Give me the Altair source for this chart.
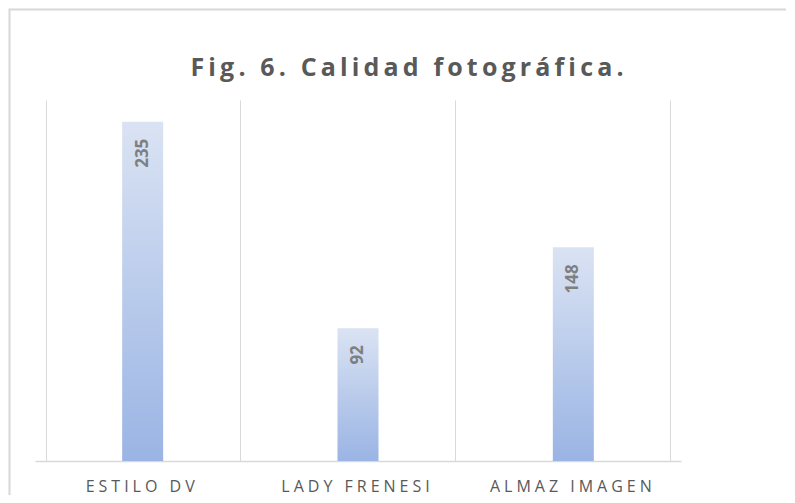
import altair as alt
import pandas as pd

categories = ["ESTILO DV", "LADY FRENESI", "ALMAZ IMAGEN"]
values = [235, 92, 148]
title_text = "Fig. 6. Calidad fotográfica."

df = pd.DataFrame({"cat": categories, "val": values})

W, H = 646, 361
SP = "\u2005"
TSP = "\u2009"

x_enc = alt.X("cat:N", sort=categories, title=None,
              axis=alt.Axis(labelAngle=0, ticks=False, grid=True, tickBand="extent",
                            gridColor="#d9d9d9", gridWidth=1,
                            domainColor="#d9d9d9", domainWidth=1.5,
                            labelColor="#595959", labelFont="Open Sans", labelFontSize=16,
                            labelPadding=17, labelOffset=-3,
                            labelExpr=f"join(split(datum.label, ''), '{SP}')"))
y_enc = alt.Y("val:Q", scale=alt.Scale(domain=[0, 250]), axis=None)

frame_top = alt.Chart(df).mark_rule(stroke="#d9d9d9", strokeWidth=1.5).encode(
    x=alt.value(-25.5), x2=alt.value(751), y=alt.value(-90.5)
)
frame_left = alt.Chart(df).mark_rule(stroke="#d9d9d9", strokeWidth=1.5).encode(
    x=alt.value(-25.5), y=alt.value(-91.25), y2=alt.value(395)
)

bars = alt.Chart(df).mark_bar(
    size=41,
    color=alt.Gradient(
        gradient="linear",
        stops=[alt.GradientStop(color="#dae3f3", offset=0),
               alt.GradientStop(color="#9ab4e4", offset=1)],
        x1=0, x2=0, y1=0, y2=1,
    ),
).encode(x=x_enc, y=y_enc)

labels = alt.Chart(df).mark_text(
    angle=270, align="right", baseline="middle", dx=-17,
    font="Open Sans", fontWeight="bold", fontSize=17, color="#7f7f7f",
).encode(x=alt.X("cat:N", sort=categories), y=y_enc, text="val:Q")

chart = alt.layer(frame_top, frame_left, bars, labels).properties(
    width=W, height=H,
    autosize=alt.AutoSizeParams(type="none"),
    padding={"left": 27, "top": 92, "right": 106, "bottom": 34},
    title=alt.TitleParams(text=alt.ExprRef(expr=f"join(split('{title_text}', ''), '{TSP}')"),
                          anchor="middle", dx=49, dy=109, offset=16,
                          baseline="alphabetic",
                          font="Open Sans", fontSize=25, fontWeight="bold",
                          color="#595959"),
).configure_view(stroke=None)

chart.save("out.html", embed_options={"renderer": "svg", "actions": False})
